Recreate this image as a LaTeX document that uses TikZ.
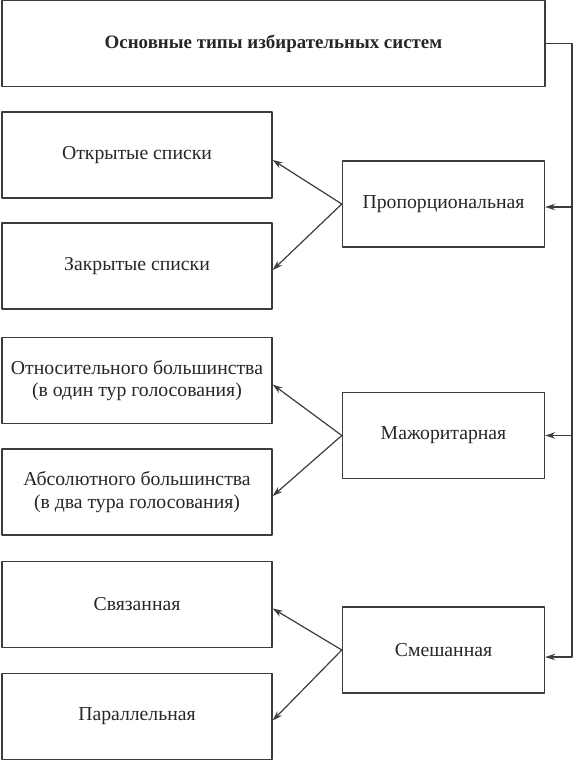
\documentclass[tikz,border=0pt]{standalone}
\usepackage{fontspec}
\setmainfont{Liberation Serif}
\usetikzlibrary{arrows.meta, positioning, calc}

\definecolor{lineg}{HTML}{3C3C3C}
\definecolor{textg}{HTML}{262626}

\begin{document}
\begin{tikzpicture}[x=1bp, y=-1bp, >={Stealth[length=10bp,width=6.5bp]}, line join=round,
    box/.style={draw=lineg, line width=1.4bp, text=textg, align=center, inner sep=0pt,
        font=\fontsize{19.8}{22.5}\selectfont},
    leftbox/.style={box, minimum width=270bp, minimum height=86bp},
    typebox/.style={box, minimum width=202bp, minimum height=86bp},
    conn/.style={draw=lineg, line width=1.2bp}]
    \useasboundingbox (0,0) rectangle (573,761);

    \node[box, minimum width=543bp, minimum height=86bp,
        font=\fontsize{19}{23}\selectfont\bfseries] (top) at (273.5,43.5)
        {Основные типы избирательных систем};

    % левая колонка
    \node[leftbox] (open)  at (137,155)   {Открытые списки};
    \node[leftbox] (closed) at (137,266)  {Закрытые списки};
    \node[leftbox] (rel)   at (137,380.5) {Относительного большинства\\(в один тур голосования)};
    \node[leftbox] (abs)   at (137,492)   {Абсолютного большинства\\(в два тура голосования)};
    \node[leftbox] (link)  at (137,604.5) {Связанная};
    \node[leftbox] (para)  at (137,716.5) {Параллельная};

    % типы систем
    \node[typebox] (prop) at (443.5,204)   {Пропорциональная};
    \node[typebox] (maj)  at (443.5,435.5) {Мажоритарная};
    \node[typebox] (mix)  at (443.5,650)   {Смешанная};

    % шина справа
    \coordinate (bus) at (572,43.5);
    \draw[conn, ->] (top.east) -- (bus) |- ([yshift=-7bp]mix.east);
    \draw[conn, ->] ([yshift=-3bp]prop.east -| bus) -- ([yshift=-3bp]prop.east);
    \draw[conn, ->] (maj.east -| bus) -- (maj.east);

    % стрелки к подтипам
    \draw[conn, ->] (prop.west) -- ([yshift=-5bp]open.east);
    \draw[conn, ->] (prop.west) -- ([yshift=-4bp]closed.east);
    \draw[conn, ->] (maj.west) -- ([yshift=-4bp]rel.east);
    \draw[conn, ->] (maj.west) -- ([yshift=-4bp]abs.east);
    \draw[conn, ->] (mix.west) -- ([yshift=-4bp]link.east);
    \draw[conn, ->] (mix.west) -- ([yshift=-4bp]para.east);
\end{tikzpicture}
\end{document}
